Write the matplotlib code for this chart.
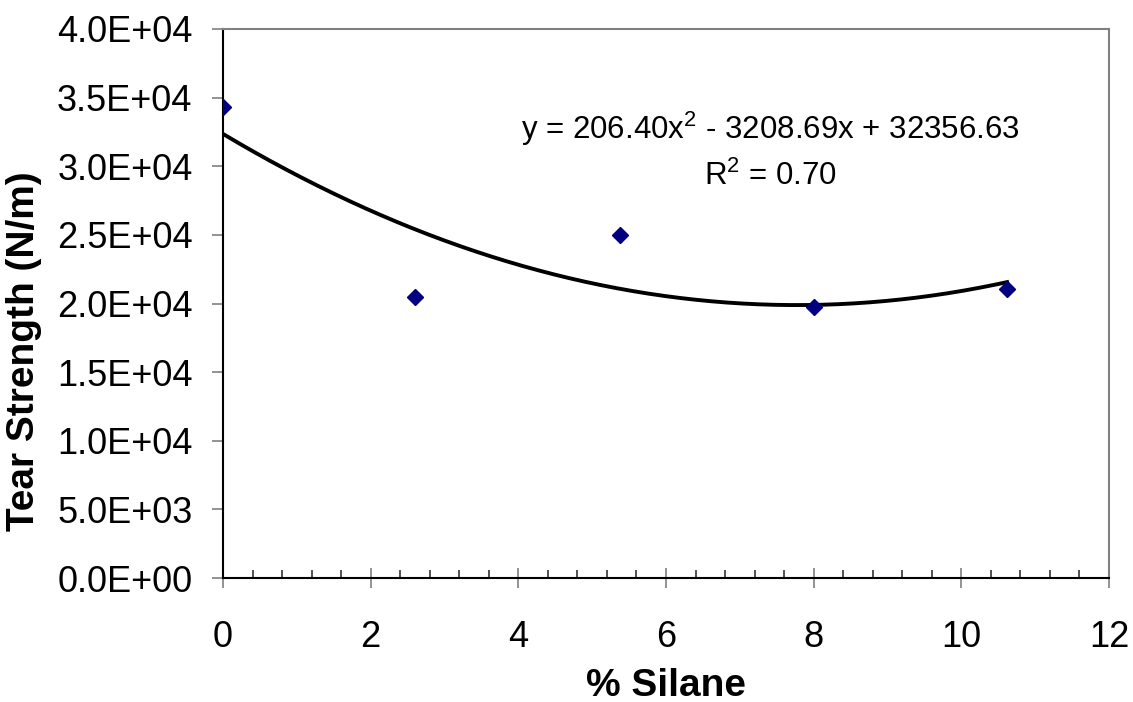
import numpy as np
import matplotlib
matplotlib.use("Agg")
import matplotlib.pyplot as plt
from matplotlib.ticker import FuncFormatter, MultipleLocator

plt.rcParams['font.family'] = ['Liberation Sans', 'DejaVu Sans']
plt.rcParams['mathtext.fontset'] = 'custom'
plt.rcParams['mathtext.rm'] = 'Liberation Sans'
plt.rcParams['mathtext.it'] = 'Liberation Sans:italic'

# measured points
silane_pct = [0.0, 2.6, 5.38, 8.0, 10.62]
tear_strength = [34300, 20480, 25000, 19750, 21060]

# trendline coefficients as printed on the chart (a, b, c)
trend_coeffs = [206.40, -3208.69, 32356.63]
trend_label = "y = 206.40x$^{2}$ - 3208.69x + 32356.63\nR$^{2}$ = 0.70"

fig = plt.figure(figsize=(11.33, 7.02), dpi=100)
ax = fig.add_axes([0.1968, 0.1766, 0.9788 - 0.1968, 0.9587 - 0.1766])

x_fit = np.linspace(min(silane_pct), max(silane_pct), 200)
y_fit = np.polyval(trend_coeffs, x_fit)
ax.plot(x_fit, y_fit, color='black', linewidth=2.8, zorder=2)

ax.plot(silane_pct, tear_strength, linestyle='none', marker='D',
        markersize=8, color='#000080', zorder=3)

ax.set_xlim(0, 12)
ax.set_ylim(0, 40000)
ax.xaxis.set_major_locator(MultipleLocator(2))
ax.xaxis.set_minor_locator(MultipleLocator(0.4))
ax.yaxis.set_major_locator(MultipleLocator(5000))
ax.yaxis.set_major_formatter(FuncFormatter(lambda v, p: f"{v:.1E}"))

ax.tick_params(axis='y', which='major', direction='out', length=8, width=1.2,
               color='#808080', labelsize=26, pad=14)
ax.tick_params(axis='x', which='major', direction='inout', length=15, width=1.2,
               color='#808080', labelsize=26, pad=23)
ax.tick_params(axis='x', which='minor', direction='in', length=6, width=1.2,
               color='#333333')

for side in ['top', 'right']:
    ax.spines[side].set_color('#808080')
    ax.spines[side].set_linewidth(1.5)
for side in ['left', 'bottom']:
    ax.spines[side].set_color('black')
    ax.spines[side].set_linewidth(1.5)

ax.set_xlabel('% Silane', fontsize=28, fontweight='bold')
ax.set_ylabel('Tear Strength (N/m)', fontsize=28, fontweight='bold')
ax.xaxis.set_label_coords(0.5, -0.164)
ax.yaxis.set_label_coords(-0.204, 0.413)

ax.text(0.618, 0.778, trend_label, transform=ax.transAxes, fontsize=22.5,
        ha='center', va='center', linespacing=1.5)

fig.savefig("out.png", dpi=100)
